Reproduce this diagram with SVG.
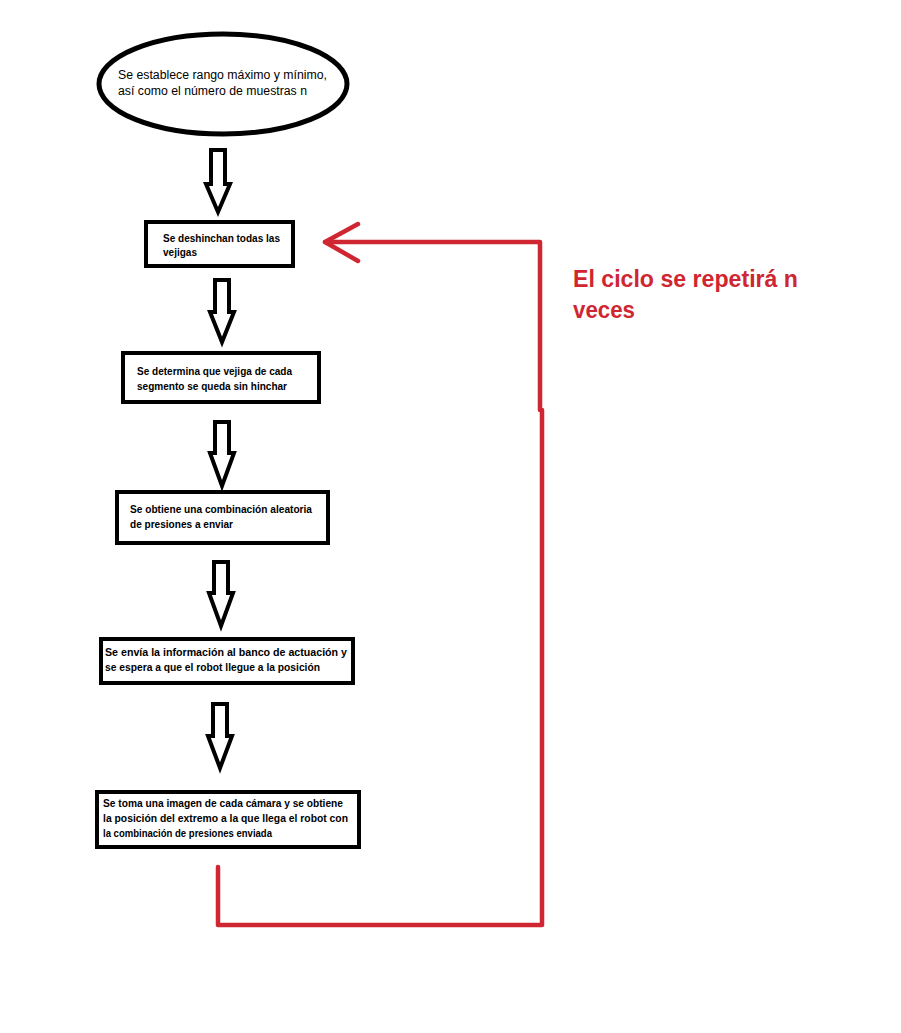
<svg xmlns="http://www.w3.org/2000/svg" width="901" height="1033" viewBox="0 0 901 1033">
<style>
.box{fill:#fff;stroke:#000;stroke-width:4}
.arr{fill:#fff;stroke:#000;stroke-width:4;stroke-linejoin:miter}
.t{font-family:"Liberation Sans",Arial,sans-serif;font-size:11.5px;font-weight:bold;fill:#000}
.te{font-family:"Liberation Sans",Arial,sans-serif;font-size:12px;fill:#000}
.red{fill:none;stroke:#d02631;stroke-width:4.5;stroke-linecap:round;stroke-linejoin:round}
.rt{font-family:"Liberation Sans",Arial,sans-serif;font-size:23.5px;font-weight:bold;fill:#d02631}
</style>
<rect width="901" height="1033" fill="#fff"/>
<g id="start">
<ellipse cx="223" cy="84" rx="124" ry="50" fill="#fff" stroke="#000" stroke-width="5"/>
<text class="te" x="118" y="79" textLength="209" lengthAdjust="spacingAndGlyphs">Se establece rango máximo y mínimo,</text>
<text class="te" x="118" y="95" textLength="189" lengthAdjust="spacingAndGlyphs">así como el número de muestras n</text>
</g>
<g id="connectors">
<polygon class="arr" points="211,150 225,150 225,184 230,184 218,212 206,184 211,184"/>
<polygon class="arr" points="215,280 229,280 229,312 234,312 222,342 210,312 215,312"/>
<polygon class="arr" points="215,422 229,422 229,453 234,453 222,486 210,453 215,453"/>
<polygon class="arr" points="214,562 228,562 228,593 233,593 221,626 209,593 214,593"/>
<polygon class="arr" points="213,704 227,704 227,736 232,736 220,768 208,736 213,736"/>
<polyline class="red" points="218,867 218,925 542,925 542,410 540,410 540,242 325,242"/>
<polyline class="red" points="358,224 325,242 358,261"/>
</g>
<g id="n1">
<rect class="box" x="146" y="222" width="147" height="44"/>
<text class="t" x="163" y="242" textLength="117" lengthAdjust="spacingAndGlyphs">Se deshinchan todas las</text>
<text class="t" x="163" y="256" textLength="34" lengthAdjust="spacingAndGlyphs">vejigas</text>
</g>
<g id="n2">
<rect class="box" x="123" y="353" width="196" height="49"/>
<text class="t" x="137" y="375" textLength="155" lengthAdjust="spacingAndGlyphs">Se determina que vejiga de cada</text>
<text class="t" x="137" y="390" textLength="150" lengthAdjust="spacingAndGlyphs">segmento se queda sin hinchar</text>
</g>
<g id="n3">
<rect class="box" x="117" y="492" width="211" height="51"/>
<text class="t" x="130" y="513" textLength="182" lengthAdjust="spacingAndGlyphs">Se obtiene una combinación aleatoria</text>
<text class="t" x="130" y="528" textLength="103" lengthAdjust="spacingAndGlyphs">de presiones a enviar</text>
</g>
<g id="n4">
<rect class="box" x="101" y="639" width="252" height="44"/>
<text class="t" x="105" y="656" textLength="242" lengthAdjust="spacingAndGlyphs">Se envía la información al banco de actuación y</text>
<text class="t" x="105" y="671" textLength="215" lengthAdjust="spacingAndGlyphs">se espera a que el robot llegue a la posición</text>
</g>
<g id="n5">
<rect class="box" x="97" y="792" width="262" height="55"/>
<text class="t" x="103" y="807" textLength="240" lengthAdjust="spacingAndGlyphs">Se toma una imagen de cada cámara y se obtiene</text>
<text class="t" x="103" y="822" textLength="245" lengthAdjust="spacingAndGlyphs">la posición del extremo a la que llega el robot con</text>
<text class="t" x="103" y="837" textLength="169" lengthAdjust="spacingAndGlyphs">la combinación de presiones enviada</text>
</g>
<g id="note">
<text class="rt" x="573" y="287" textLength="225" lengthAdjust="spacingAndGlyphs">El ciclo se repetirá n</text>
<text class="rt" x="573" y="318" textLength="62" lengthAdjust="spacingAndGlyphs">veces</text>
</g>
</svg>
